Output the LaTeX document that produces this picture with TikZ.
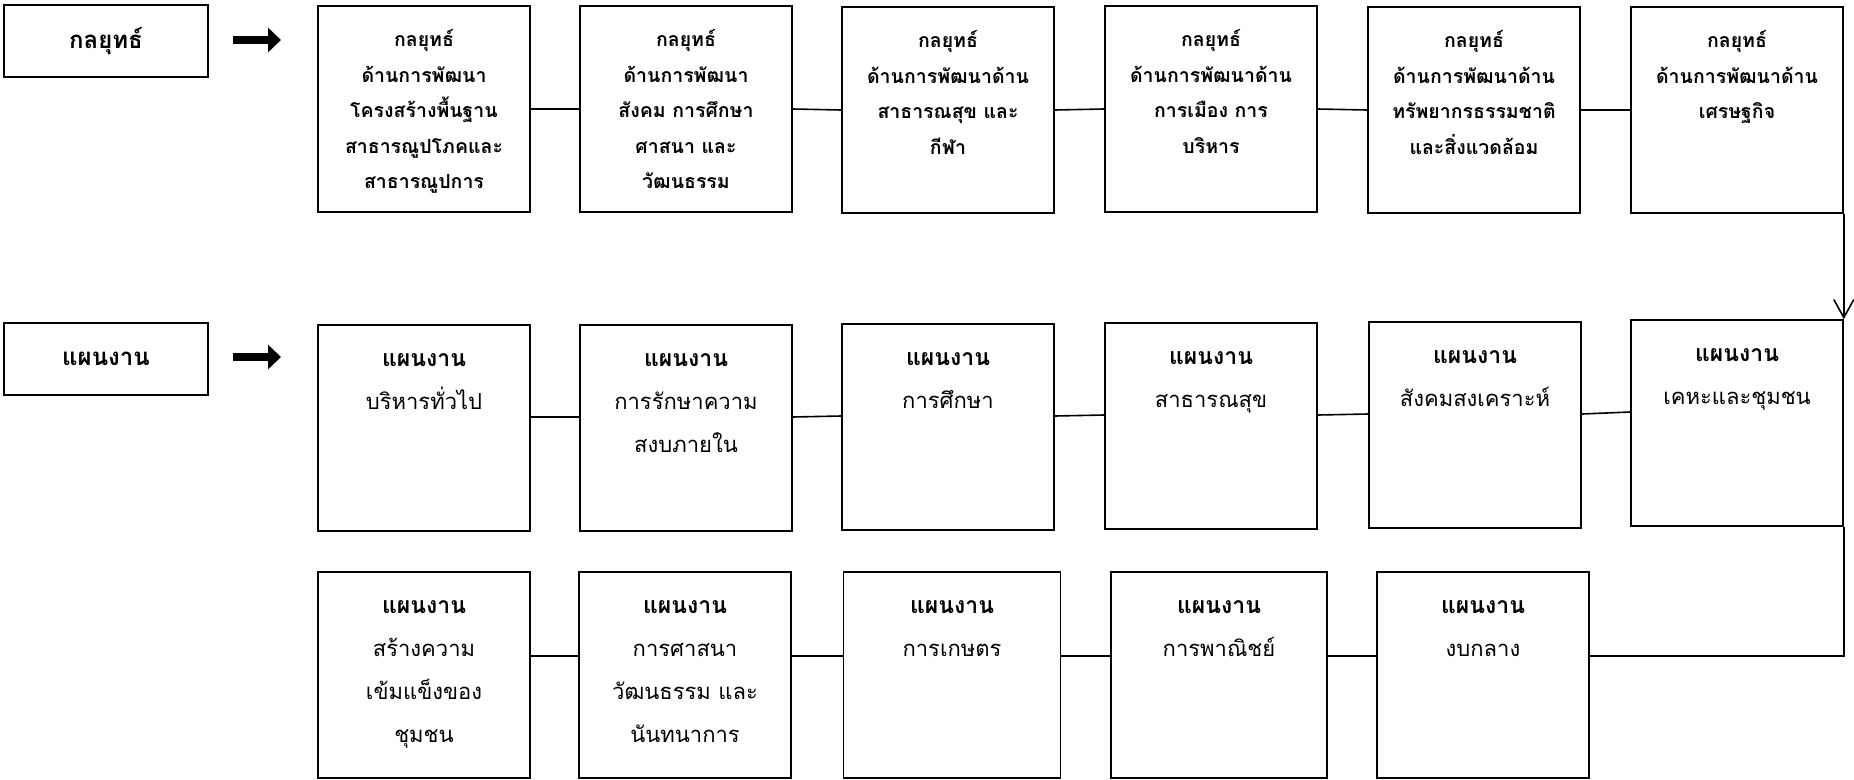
\documentclass[tikz,border=0pt]{standalone}
\usepackage{fontspec}
\newfontfamily\thai[Script=Thai]{Loma}
\usetikzlibrary{arrows.meta}
\begin{document}
\begin{tikzpicture}[x=1pt,y=-1pt,
  box/.style={draw, line width=1.6pt, minimum width=212pt, minimum height=206pt, inner sep=0pt},
  lbox/.style={draw, line width=1.6pt, minimum width=204pt, minimum height=72pt, inner sep=0pt,
     font=\thai\bfseries\fontsize{24}{28}\selectfont},
  stxt/.style={anchor=north, align=center, inner sep=0pt, font=\thai\bfseries\fontsize{19.5}{35.5}\selectfont},
  ptxt/.style={anchor=north, align=center, inner sep=0pt, font=\thai\fontsize{22}{43}\selectfont},
  conn/.style={line width=1.6pt},
  bigarrow/.style={line width=8pt, -{Triangle[length=13pt,width=24pt]}},
  openarrow/.style={line width=1.6pt, -{Straight Barb[length=18pt,width=20pt]}}
]
\useasboundingbox (0,0) rectangle (1854,779);

% label boxes
\node[lbox] (l1) at (106,41) {กลยุทธ์};
\node[lbox] (l2) at (106,359) {แผนงาน};
\coordinate (a1s) at (233,40);
\coordinate (a1e) at (281,40);
\coordinate (a2s) at (233,357);
\coordinate (a2e) at (281,357);
\draw[bigarrow] (a1s) -- (a1e);
\draw[bigarrow] (a2s) -- (a2e);

% row 1: strategies
\node[box] (s1) at (424,109) {};
\node[box] (s2) at (686,109) {};
\node[box] (s3) at (948,110) {};
\node[box] (s4) at (1211,109) {};
\node[box] (s5) at (1474,110) {};
\node[box] (s6) at (1737,110) {};
\node[stxt] (s1t) at ([yshift=-24]s1.north) {กลยุทธ์\\ด้านการพัฒนา\\โครงสร้างพื้นฐาน\\สาธารณูปโภคและ\\สาธารณูปการ};
\node[stxt] (s2t) at ([yshift=-24]s2.north) {กลยุทธ์\\ด้านการพัฒนา\\สังคม การศึกษา\\ศาสนา และ\\วัฒนธรรม};
\node[stxt] (s3t) at ([yshift=-24]s3.north) {กลยุทธ์\\ด้านการพัฒนาด้าน\\สาธารณสุข และ\\กีฬา};
\node[stxt] (s4t) at ([yshift=-24]s4.north) {กลยุทธ์\\ด้านการพัฒนาด้าน\\การเมือง การ\\บริหาร};
\node[stxt] (s5t) at ([yshift=-24]s5.north) {กลยุทธ์\\ด้านการพัฒนาด้าน\\ทรัพยากรธรรมชาติ\\และสิ่งแวดล้อม};
\node[stxt] (s6t) at ([yshift=-24]s6.north) {กลยุทธ์\\ด้านการพัฒนาด้าน\\เศรษฐกิจ};
\draw[conn] (s1.east) -- (s2.west);
\draw[conn] (s2.east) -- (s3.west);
\draw[conn] (s3.east) -- (s4.west);
\draw[conn] (s4.east) -- (s5.west);
\draw[conn] (s5.east) -- (s6.west);

% row 2: plans
\node[box] (p1) at (424,428) {};
\node[box] (p2) at (686,428) {};
\node[box] (p3) at (948,427) {};
\node[box] (p4) at (1211,426) {};
\node[box] (p5) at (1475,425) {};
\node[box] (p6) at (1737,423) {};
\node[ptxt] (p1t) at ([yshift=-29]p1.north) {{\bfseries\fontsize{23}{43}\selectfont แผนงาน}\\บริหารทั่วไป};
\node[ptxt] (p2t) at ([yshift=-29]p2.north) {{\bfseries\fontsize{23}{43}\selectfont แผนงาน}\\การรักษาความ\\สงบภายใน};
\node[ptxt] (p3t) at ([yshift=-29]p3.north) {{\bfseries\fontsize{23}{43}\selectfont แผนงาน}\\การศึกษา};
\node[ptxt] (p4t) at ([yshift=-29]p4.north) {{\bfseries\fontsize{23}{43}\selectfont แผนงาน}\\สาธารณสุข};
\node[ptxt] (p5t) at ([yshift=-29]p5.north) {{\bfseries\fontsize{23}{43}\selectfont แผนงาน}\\สังคมสงเคราะห์};
\node[ptxt] (p6t) at ([yshift=-29]p6.north) {{\bfseries\fontsize{23}{43}\selectfont แผนงาน}\\เคหะและชุมชน};
\draw[conn] ([yshift=11]p1.east) -- ([yshift=11]p2.west);
\draw[conn] ([yshift=11]p2.east) -- ([yshift=11]p3.west);
\draw[conn] ([yshift=11]p3.east) -- ([yshift=11]p4.west);
\draw[conn] ([yshift=11]p4.east) -- ([yshift=11]p5.west);
\draw[conn] ([yshift=11]p5.east) -- ([yshift=11]p6.west);

% row 3: plans
\node[box] (c1) at (424,675) {};
\node[box] (c2) at (685,675) {};
\node[box, minimum width=217pt] (c3) at (952,675) {};
\node[box, minimum width=216pt] (c4) at (1219,675) {};
\node[box] (c5) at (1483,675) {};
\node[ptxt] (c1t) at ([yshift=-29]c1.north) {{\bfseries\fontsize{23}{43}\selectfont แผนงาน}\\สร้างความ\\เข้มแข็งของ\\ชุมชน};
\node[ptxt] (c2t) at ([yshift=-29]c2.north) {{\bfseries\fontsize{23}{43}\selectfont แผนงาน}\\การศาสนา\\วัฒนธรรม และ\\นันทนาการ};
\node[ptxt] (c3t) at ([yshift=-29]c3.north) {{\bfseries\fontsize{23}{43}\selectfont แผนงาน}\\การเกษตร};
\node[ptxt] (c4t) at ([yshift=-29]c4.north) {{\bfseries\fontsize{23}{43}\selectfont แผนงาน}\\การพาณิชย์};
\node[ptxt] (c5t) at ([yshift=-29]c5.north) {{\bfseries\fontsize{23}{43}\selectfont แผนงาน}\\งบกลาง};
\draw[conn] ([yshift=19]c1.east) -- ([yshift=19]c2.west);
\draw[conn] ([yshift=19]c2.east) -- ([yshift=19]c3.west);
\draw[conn] ([yshift=19]c3.east) -- ([yshift=19]c4.west);
\draw[conn] ([yshift=19]c4.east) -- ([yshift=19]c5.west);

% flow between rows
\draw[openarrow] (s6.south east) -- (p6.north east);
\draw[conn] (p6.south east) |- ([yshift=19]c5.east);
\end{tikzpicture}
\end{document}
